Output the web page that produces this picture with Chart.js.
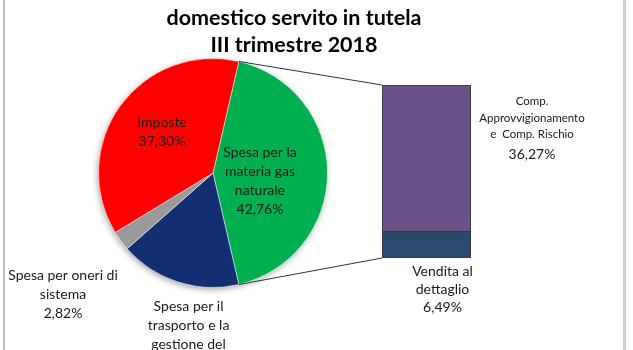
<!DOCTYPE html>
<html lang="it">
<head>
  <meta charset="UTF-8" />
  <title>domestico servito in tutela - III trimestre 2018</title>
  <script src="https://cdn.jsdelivr.net/npm/chart.js"></script>
  <style>
    body { margin: 0; background: #fff; }
    #wrap { position: relative; width: 633px; height: 350px; overflow: hidden; }
    #wrap canvas { position: absolute; left: 0; top: 0; }
  </style>
</head>
<body>
  <div id="wrap">
    <canvas id="pieChart" width="633" height="350"></canvas>
    <canvas id="barChart" width="633" height="350"></canvas>
  </div>

  <script>
    // data
    const titleLines = ['domestico servito in tutela', 'III trimestre 2018'];
    const sliceLabels = [
      ['Spesa per la', 'materia gas', 'naturale'],
      ['Spesa per il', 'trasporto e la', 'gestione del', 'contatore'],
      ['Spesa per oneri di', 'sistema'],
      ['Imposte']
    ];
    const sliceValues = [42.76, 17.12, 2.82, 37.30];
    const sliceColors = ['#00b050', '#132f72', '#999999', '#ff0000'];

    const barLabels = [
      ['Vendita al', 'dettaglio'],
      ['Comp.', 'Approvvigionamento', 'e  Comp. Rischio']
    ];
    const barValues = [6.49, 36.27];
    const barColors = ['#2b4b6e', '#6a5187'];

    const fmt = v => v.toFixed(2).replace('.', ',') + '%';
    const FONT = 'Lato, "Open Sans", sans-serif';

    // where each slice label sits: fraction of radius along the mid angle, plus a nudge
    const slicePlace = [
      { k: 0.41, dx: 0, dy: 8 },
      { k: 1.5, dx: 28, dy: 8 },
      { k: 1.55, dx: -7, dy: 16 },
      { k: 0.55, dx: 0, dy: -4 }
    ];

    function drawLines(ctx, lines, x, y, lh) {
      const top = y - (lines.length - 1) * lh / 2;
      lines.forEach((l, i) => ctx.fillText(l, x, top + i * lh));
    }

    const pieDecor = {
      id: 'pieDecor',
      beforeDraw(chart) {
        const ctx = chart.ctx;
        ctx.save();
        // frame edges
        ctx.fillStyle = '#bdbdbd';
        ctx.fillRect(3, 0, 2, 350);
        ctx.fillStyle = '#cfcfcf';
        ctx.fillRect(623, 0, 3, 350);
        // title
        ctx.fillStyle = '#000';
        ctx.font = 'bold 21.5px ' + FONT;
        ctx.textAlign = 'center';
        ctx.textBaseline = 'middle';
        ctx.fillText(titleLines[0], 294, 18);
        ctx.fillText(titleLines[1], 294, 45);
        ctx.restore();
      },
      beforeDatasetsDraw(chart) {
        // soft shadow under the pie
        const arc = chart.getDatasetMeta(0).data[0];
        const ctx = chart.ctx;
        ctx.save();
        ctx.shadowColor = 'rgba(0,0,0,0.35)';
        ctx.shadowBlur = 6;
        ctx.shadowOffsetX = -1;
        ctx.shadowOffsetY = 2;
        ctx.fillStyle = '#fff';
        ctx.beginPath();
        ctx.arc(arc.x, arc.y, arc.outerRadius, 0, Math.PI * 2);
        ctx.fill();
        ctx.restore();
      },
      afterDatasetsDraw(chart) {
        const ctx = chart.ctx;
        ctx.save();
        ctx.fillStyle = '#1a1a1a';
        ctx.font = '14px ' + FONT;
        ctx.textAlign = 'center';
        ctx.textBaseline = 'middle';
        chart.getDatasetMeta(0).data.forEach((arc, i) => {
          const mid = (arc.startAngle + arc.endAngle) / 2;
          const p = slicePlace[i];
          const x = arc.x + Math.cos(mid) * arc.outerRadius * p.k + p.dx;
          const y = arc.y + Math.sin(mid) * arc.outerRadius * p.k + p.dy;
          drawLines(ctx, sliceLabels[i].concat(fmt(sliceValues[i])), x, y, 19);
        });
        ctx.restore();
      }
    };

    const pieChart = new Chart(document.getElementById('pieChart'), {
      type: 'pie',
      data: {
        labels: sliceLabels.map(l => l.join(' ')),
        datasets: [{
          data: sliceValues,
          backgroundColor: sliceColors,
          borderColor: 'rgba(255,255,255,0.5)',
          borderWidth: 1
        }]
      },
      options: {
        responsive: false,
        animation: false,
        // split slice centred on the right, like the original pie-of-bar
        rotation: 90 - sliceValues[0] * 3.6 / 2,
        layout: { padding: { left: 98, right: 305, top: 58, bottom: 62 } },
        plugins: { legend: { display: false }, tooltip: { enabled: false } }
      },
      plugins: [pieDecor]
    });

    const barDecor = {
      id: 'barDecor',
      afterDatasetsDraw(chart) {
        const ctx = chart.ctx;
        const green = pieChart.getDatasetMeta(0).data[0];
        const low = chart.getDatasetMeta(0).data[0];
        const high = chart.getDatasetMeta(1).data[0];
        const left = high.x - high.width / 2;
        const right = high.x + high.width / 2;

        // connector lines from the split slice to the bar
        ctx.save();
        ctx.strokeStyle = '#333';
        ctx.lineWidth = 1;
        ctx.beginPath();
        ctx.moveTo(green.x + Math.cos(green.startAngle) * green.outerRadius,
                   green.y + Math.sin(green.startAngle) * green.outerRadius);
        ctx.lineTo(left, high.y);
        ctx.moveTo(green.x + Math.cos(green.endAngle) * green.outerRadius,
                   green.y + Math.sin(green.endAngle) * green.outerRadius);
        ctx.lineTo(left, low.base);
        ctx.stroke();

        // labels
        ctx.fillStyle = '#1a1a1a';
        ctx.textAlign = 'center';
        ctx.textBaseline = 'middle';
        ctx.font = '11.5px ' + FONT;
        drawLines(ctx, barLabels[1], right + 61, high.y + 33, 16.5);
        ctx.font = '14px ' + FONT;
        ctx.fillText(fmt(barValues[1]), right + 61, high.y + 69);
        drawLines(ctx, barLabels[0].concat(fmt(barValues[0])), low.x + 16, low.base + 31, 18);
        ctx.restore();
      }
    };

    new Chart(document.getElementById('barChart'), {
      type: 'bar',
      data: {
        labels: [''],
        datasets: barValues.map((v, i) => ({
          label: barLabels[i].join(' '),
          data: [v],
          backgroundColor: barColors[i],
          borderColor: '#3a3a3a',
          borderWidth: 1,
          borderSkipped: false,
          barPercentage: 1,
          categoryPercentage: 1
        }))
      },
      options: {
        responsive: false,
        animation: false,
        layout: { padding: { left: 382, right: 162, top: 85, bottom: 92 } },
        scales: {
          x: { stacked: true, display: false },
          y: { stacked: true, display: false, min: 0, max: barValues[0] + barValues[1] }
        },
        plugins: { legend: { display: false }, tooltip: { enabled: false } }
      },
      plugins: [barDecor]
    });
  </script>
</body>
</html>
